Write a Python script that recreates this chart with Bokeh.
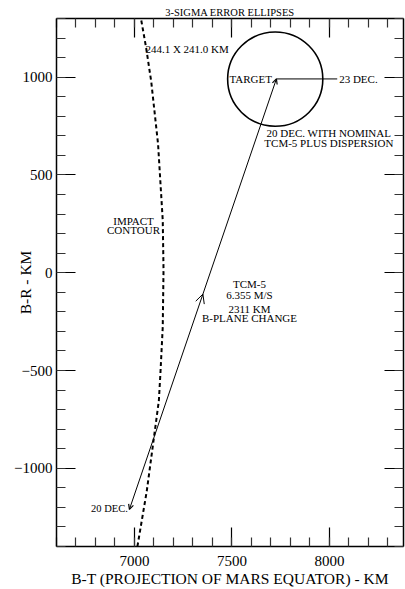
import math
from bokeh.plotting import figure
from bokeh.models import (Range1d, LinearAxis, FixedTicker, Arrow, OpenHead,
                          ColumnDataSource)
from bokeh.core.properties import value
from bokeh.embed import file_html
from bokeh.resources import INLINE

FONT = "Liberation Serif"

# ---- data -------------------------------------------------------------
x_major = [7000, 7500, 8000]
x_minor = list(range(6600, 8401, 100))
y_major = [-1000, -500, 0, 500, 1000]
y_minor = list(range(-1400, 1301, 100))

# impact contour (dashed)
contour_x = [7035, 7060, 7086, 7121, 7145, 7149, 7145, 7133, 7125, 7086, 7063, 7015]
contour_y = [1290, 1149, 977, 658, 268, 12, -278, -516, -655, -946, -1117, -1400]

# trajectory: 20 DEC. -> target (B-plane change)
traj_x = [6974, 7728]
traj_y = [-1210, 991]

# 23 DEC. line from target
dec23_x = [7728, 8040]
dec23_y = [991, 991]

# 3-sigma error ellipse
ell_x = [7722]
ell_y = [990]
ell_w = [2 * 244.1]
ell_h = [2 * 241.0]

ann_text = ["244.1 X 241.0 KM", "TARGET", "23 DEC.",
            "20 DEC. WITH NOMINAL", "TCM-5 PLUS DISPERSION",
            "IMPACT", "CONTOUR",
            "TCM-5", "6.355 M/S", "2311 KM", "B-PLANE CHANGE"]
ann_x = [7056, 7705, 8050, 7997, 7997, 6995, 6995, 7590, 7590, 7590, 7590]
ann_y = [1145, 990, 990, 713, 662, 265, 217, -56, -113, -183, -233]
ann_align = ["left", "right", "left", "center", "center", "center", "center",
             "center", "center", "center", "center"]

title_text = "3-SIGMA ERROR ELLIPSES"
x_label = "B-T (PROJECTION OF MARS EQUATOR) - KM"
y_label = "B-R - KM"

# ---- figure -----------------------------------------------------------
p = figure(width=405, height=589, x_range=Range1d(6600, 8380), y_range=Range1d(-1400, 1300),
           output_backend="svg", toolbar_location=None,
           min_border_left=56, min_border_right=2, min_border_top=18, min_border_bottom=43,
           x_axis_location=None, y_axis_location=None)
p.outline_line_color = None
p.xgrid.visible = False
p.ygrid.visible = False
p.background_fill_color = "white"
p.border_fill_color = "white"

p.title.text = title_text
p.title.align = "center"
p.title.text_font = FONT
p.title.text_font_size = "10.5px"
p.title.text_font_style = "normal"
p.title.text_color = "black"
p.title.standoff = 2
p.title.offset = 2


def style_axis(ax, ticks, minor, show_labels, standoff):
    ax.ticker = FixedTicker(ticks=ticks, minor_ticks=minor)
    ax.axis_line_color = "black"
    ax.axis_line_width = 1.5
    ax.major_tick_in = 19
    ax.major_tick_out = 0
    ax.minor_tick_in = 9
    ax.minor_tick_out = 0
    ax.major_tick_line_color = "black"
    ax.major_tick_line_width = 1.2
    ax.minor_tick_line_color = "#333333"
    ax.minor_tick_line_width = 1.2
    ax.major_label_standoff = standoff
    if show_labels:
        ax.major_label_text_font = FONT
        ax.major_label_text_font_size = "15px"
        ax.major_label_text_color = "black"
        ax.axis_label_text_font = FONT
        ax.axis_label_text_font_size = "15.5px"
        ax.axis_label_text_font_style = "normal"
        ax.axis_label_text_color = "black"
    else:
        ax.major_label_text_font_size = "0px"
        ax.major_label_text_alpha = 0


bottom = LinearAxis(axis_label=x_label)
style_axis(bottom, x_major, x_minor, True, 9)
bottom.axis_label_standoff = 1
p.add_layout(bottom, "below")
left = LinearAxis(axis_label=y_label)
style_axis(left, y_major, y_minor, True, 4)
left.axis_label_standoff = -23
p.add_layout(left, "left")
top = LinearAxis()
style_axis(top, x_major, x_minor, False, 0)
p.add_layout(top, "above")
right = LinearAxis()
style_axis(right, y_major, y_minor, False, 0)
p.add_layout(right, "right")

# glyphs
p.line(contour_x, contour_y, line_color="black", line_width=2, line_dash="4 3")
p.line(traj_x, traj_y, line_color="black", line_width=1)
p.line(dec23_x, dec23_y, line_color="black", line_width=1)
p.ellipse(x=ell_x, y=ell_y, width=ell_w, height=ell_h, fill_color=None,
          line_color="black", line_width=1.6)

# arrowheads along the trajectory
dx = traj_x[1] - traj_x[0]
dy = traj_y[1] - traj_y[0]
mid_t = 0.5
mx, my = traj_x[0] + mid_t * dx, traj_y[0] + mid_t * dy
p.add_layout(Arrow(x_start=mx - 0.05 * dx, y_start=my - 0.05 * dy, x_end=mx, y_end=my,
                   line_alpha=0, end=OpenHead(size=9, line_width=1, line_color="black")))
p.add_layout(Arrow(x_start=traj_x[1] - 0.05 * dx, y_start=traj_y[1] - 0.05 * dy,
                   x_end=traj_x[1], y_end=traj_y[1], line_alpha=0,
                   end=OpenHead(size=5, line_width=1.2, line_color="black")))
p.add_layout(Arrow(x_start=traj_x[0] + 0.05 * dx, y_start=traj_y[0] + 0.05 * dy,
                   x_end=traj_x[0], y_end=traj_y[0], line_alpha=0,
                   end=OpenHead(size=5, line_width=1.2, line_color="black")))

src = ColumnDataSource(dict(x=ann_x, y=ann_y, text=ann_text, align=ann_align))
p.text(x="x", y="y", text="text", source=src, text_align="align", text_baseline="middle",
       text_font=value(FONT), text_font_size="11px", text_color="black")
p.text(x=[6966], y=[-1205], text=["20 DEC."], text_align="right", text_baseline="middle",
       text_font=value(FONT), text_font_size="10.5px", text_color="black")

open("out.html", "w").write(file_html(p, INLINE))
